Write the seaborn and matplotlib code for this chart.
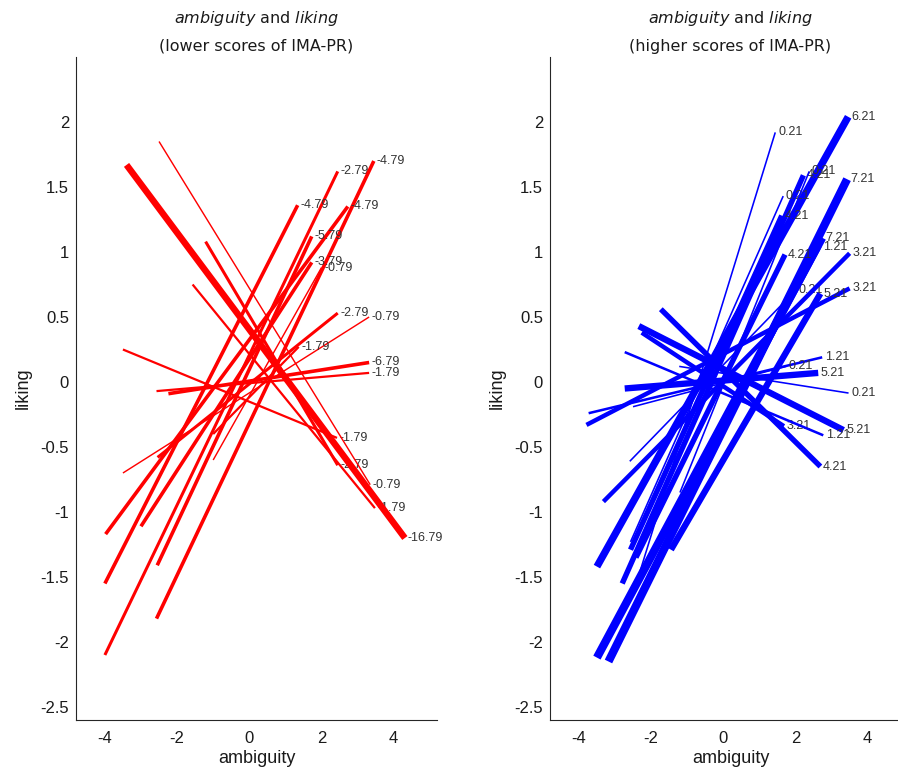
import matplotlib
matplotlib.use("Agg")
import matplotlib.pyplot as plt
import seaborn as sns
import numpy as np

# ---------------- data ----------------
# left panel: lower scores of IMA-PR (red)
low_x0 = [-4.00, -2.57, -4.00, -3.98, -2.55, -3.00, -1.00, -2.54, -3.50, -1.00, -2.24, -2.57, -3.50, -1.21, -2.50, -1.57, -3.40]
low_y0 = [-2.10, -1.82, -1.55, -1.17, -1.41, -1.11, -0.60, -0.58, -0.70, -0.40, -0.09, -0.07, 0.25, 1.08, 1.85, 0.75, 1.67]
low_x1 = [2.45, 3.45, 1.34, 2.73, 1.73, 1.73, 2.00, 2.45, 3.32, 1.37, 3.32, 3.32, 2.43, 2.45, 3.35, 3.48, 4.31]
low_y1 = [1.62, 1.70, 1.36, 1.35, 1.12, 0.92, 0.88, 0.53, 0.50, 0.27, 0.15, 0.07, -0.43, -0.64, -0.79, -0.97, -1.20]
low_lab = [-2.79, -4.79, -4.79, -4.79, -5.79, -3.79, -0.79, -2.79, -0.79, -1.79, -6.79, -1.79, -1.79, -2.79, -0.79, -1.79, -16.79]

# right panel: higher scores of IMA-PR (blue)
high_x0 = [-1.73, -2.34, -2.26, -2.73, -1.22, -2.73, -3.73, -3.79, -2.50, -2.59, -3.32,
           -3.18, -3.50, -3.50, -2.80, -2.57, -1.45, -2.57, -1.59, -2.52, -2.42, -1.20]
high_y0 = [0.56, 0.43, 0.38, 0.23, 0.12, -0.05, -0.24, -0.33, -0.19, -0.61, -0.92,
           -2.15, -2.12, -1.42, -1.55, -1.29, -1.29, -1.23, -1.18, -1.65, -1.35, -0.85]
high_x1 = [2.69, 3.33, 1.68, 2.77, 3.47, 2.63, 2.74, 3.50, 1.74, 2.02, 3.50,
           3.43, 2.74, 3.46, 2.22, 1.62, 2.69, 1.66, 2.69, 1.44, 1.71, 2.38]
high_y1 = [-0.65, -0.37, -0.34, -0.41, -0.085, 0.07, 0.19, 0.72, 0.12, 0.71, 0.99,
           1.56, 1.11, 2.04, 1.59, 1.28, 0.68, 1.43, 1.04, 1.92, 0.98, 1.62]
high_lab = [4.21, 5.21, 3.21, 1.21, 0.21, 5.21, 1.21, 3.21, 0.21, 0.21, 3.21,
            7.21, 7.21, 6.21, 4.21, 4.21, 5.21, 0.21, 1.21, 0.21, 4.21, 0.21]

x_ticks = [-4, -2, 0, 2, 4]
y_ticks = [-2.5, -2, -1.5, -1, -0.5, 0, 0.5, 1, 1.5, 2]
titles = ["lower scores of IMA-PR", "higher scores of IMA-PR"]

# ---------------- style ----------------
sns.set_style("white")
plt.rcParams["font.family"] = ["Liberation Sans", "DejaVu Sans"]
plt.rcParams["mathtext.fontset"] = "custom"
plt.rcParams["mathtext.it"] = "DejaVu Sans:italic"
plt.rcParams["mathtext.rm"] = "DejaVu Sans"

W, H = 898, 770
fig = plt.figure(figsize=(W / 100, H / 100), dpi=100)
ax_l = fig.add_axes([76 / W, 50 / H, 361 / W, 663 / H])
ax_r = fig.add_axes([550 / W, 50 / H, 361 / W, 663 / H])

PX = 0.72  # points per pixel


def draw_panel(ax, x0, y0, x1, y1, labels, color, wfun, subtitle):
    for a, b, c, d, v in zip(x0, y0, x1, y1, labels):
        lw = wfun(abs(v)) * PX
        sns.lineplot(x=[a, c], y=[b, d], ax=ax, color=color, linewidth=lw,
                     sort=False, estimator=None, legend=False,
                     solid_capstyle="butt", zorder=2)
        ax.annotate(f"{v:.2f}", xy=(c, d), xytext=(2, 0), textcoords="offset points",
                    ha="left", va="center", fontsize=9, color="#333333",
                    zorder=2, annotation_clip=False)
    ax.set_xlim(-4.8, 5.2)
    ax.set_ylim(-2.6, 2.5)
    ax.set_xticks(x_ticks)
    ax.set_yticks(y_ticks)
    ax.set_xticklabels([f"{t:g}" for t in x_ticks])
    ax.set_yticklabels([f"{t:g}" for t in y_ticks])
    ax.tick_params(direction="in", length=5, width=0.8, color="#262626",
                   labelsize=12, labelcolor="#1a1a1a")
    ax.tick_params(axis="x", pad=8)
    ax.tick_params(axis="y", pad=5)
    for s in ["top", "right"]:
        ax.spines[s].set_visible(False)
    for s in ["left", "bottom"]:
        ax.spines[s].set_color("#262626")
        ax.spines[s].set_linewidth(0.8)
    ax.set_xlabel("ambiguity", fontsize=13, color="#1a1a1a", labelpad=3)
    ax.set_ylabel("liking", fontsize=13, color="#1a1a1a", labelpad=6)
    ax.text(0.5, 1 + 39 / 663, r"$ambiguity$ and $liking$", transform=ax.transAxes,
            ha="center", va="center", fontsize=11.5, color="#1a1a1a",
            family="DejaVu Sans")
    ax.text(0.5, 1 + 11 / 663, f"({subtitle})", transform=ax.transAxes,
            ha="center", va="center", fontsize=11.5, color="#1a1a1a",
            family="DejaVu Sans")


def red_width(v):
    return 6.5 if v > 10 else min(0.8 + 0.8 * v, 3.6)


draw_panel(ax_l, low_x0, low_y0, low_x1, low_y1, low_lab, "#ff0000",
           red_width, titles[0])
draw_panel(ax_r, high_x0, high_y0, high_x1, high_y1, high_lab, "#0000ff",
           lambda v: 1.4 + 0.95 * v, titles[1])

fig.savefig("out.png", dpi=100)
